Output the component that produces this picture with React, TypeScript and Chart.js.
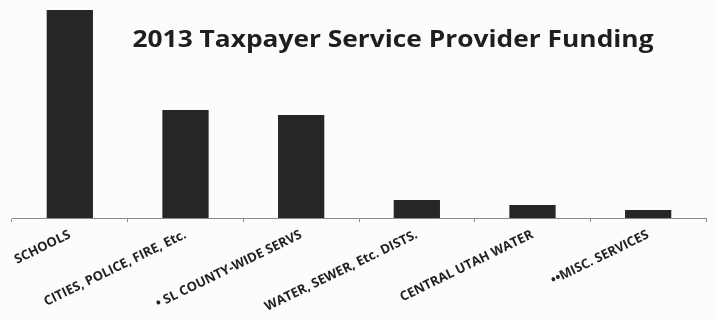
import React, { useEffect, useRef } from "react";
import { Chart, registerables } from "chart.js";

Chart.register(...registerables);

const categories = [
  "SCHOOLS",
  "CITIES, POLICE, FIRE, Etc.",
  "\u2022 SL COUNTY-WIDE SERVS",
  "WATER, SEWER, Etc. DISTS.",
  "CENTRAL UTAH WATER",
  "\u2022\u2022MISC. SERVICES",
];
const funding = [1040, 540, 515, 90, 65, 40];
const titleText = "2013 Taxpayer Service Provider Funding";

const titlePlugin = {
  id: "innerTitle",
  afterDraw(chart: any) {
    const ctx = chart.ctx;
    ctx.save();
    ctx.font = "bold 23px 'Open Sans'";
    ctx.fillStyle = "#1e1e1e";
    ctx.textAlign = "center";
    ctx.textBaseline = "alphabetic";
    const w = ctx.measureText(titleText).width;
    const sx = 521 / w;
    ctx.translate(393, 47);
    ctx.scale(sx, 1);
    ctx.fillText(titleText, 0, 0);
    ctx.restore();
  },
};

const bgPlugin = {
  id: "bg",
  beforeDraw(chart: any) {
    const ctx = chart.ctx;
    ctx.save();
    ctx.fillStyle = "#fcfcfc";
    ctx.fillRect(0, 0, chart.width, chart.height);
    ctx.restore();
  },
};

export default function App() {
  const ref = useRef<HTMLCanvasElement>(null);
  useEffect(() => {
    if (!ref.current) return;
    const chart = new Chart(ref.current, {
      type: "bar",
      data: {
        labels: categories,
        datasets: [
          {
            data: funding,
            backgroundColor: "#262626",
            borderWidth: 0,
            categoryPercentage: 1,
            barPercentage: 0.4,
          },
        ],
      },
      options: {
        animation: false,
        responsive: false,
        layout: { padding: { left: 12, right: 11, top: 10, bottom: 0 } },
        plugins: { legend: { display: false }, tooltip: { enabled: false }, title: { display: false } },
        scales: {
          x: {
            offset: true,
            grid: {
              offset: true,
              drawOnChartArea: false,
              drawTicks: true,
              tickLength: 4,
              color: "#8a8a8a",
            },
            border: { display: true, color: "#8a8a8a", width: 1 },
            ticks: {
              minRotation: 26,
              maxRotation: 26,
              autoSkip: false,
              padding: 5,
              color: "#222",
              font: { family: "'Open Sans'", weight: "bold", size: 13 },
            },
            afterFit(scale: any) {
              scale.height = 102;
            },
          },
          y: {
            display: false,
            min: 0,
            max: 1040,
          },
        },
      },
      plugins: [bgPlugin, titlePlugin],
    });
    return () => chart.destroy();
  }, []);
  return (
    <div style={{ position: "fixed", left: 0, top: 0, width: 717, height: 320, background: "#fcfcfc" }}>
      <canvas ref={ref} width={717} height={320} style={{ width: 717, height: 320 }} />
    </div>
  );
}
